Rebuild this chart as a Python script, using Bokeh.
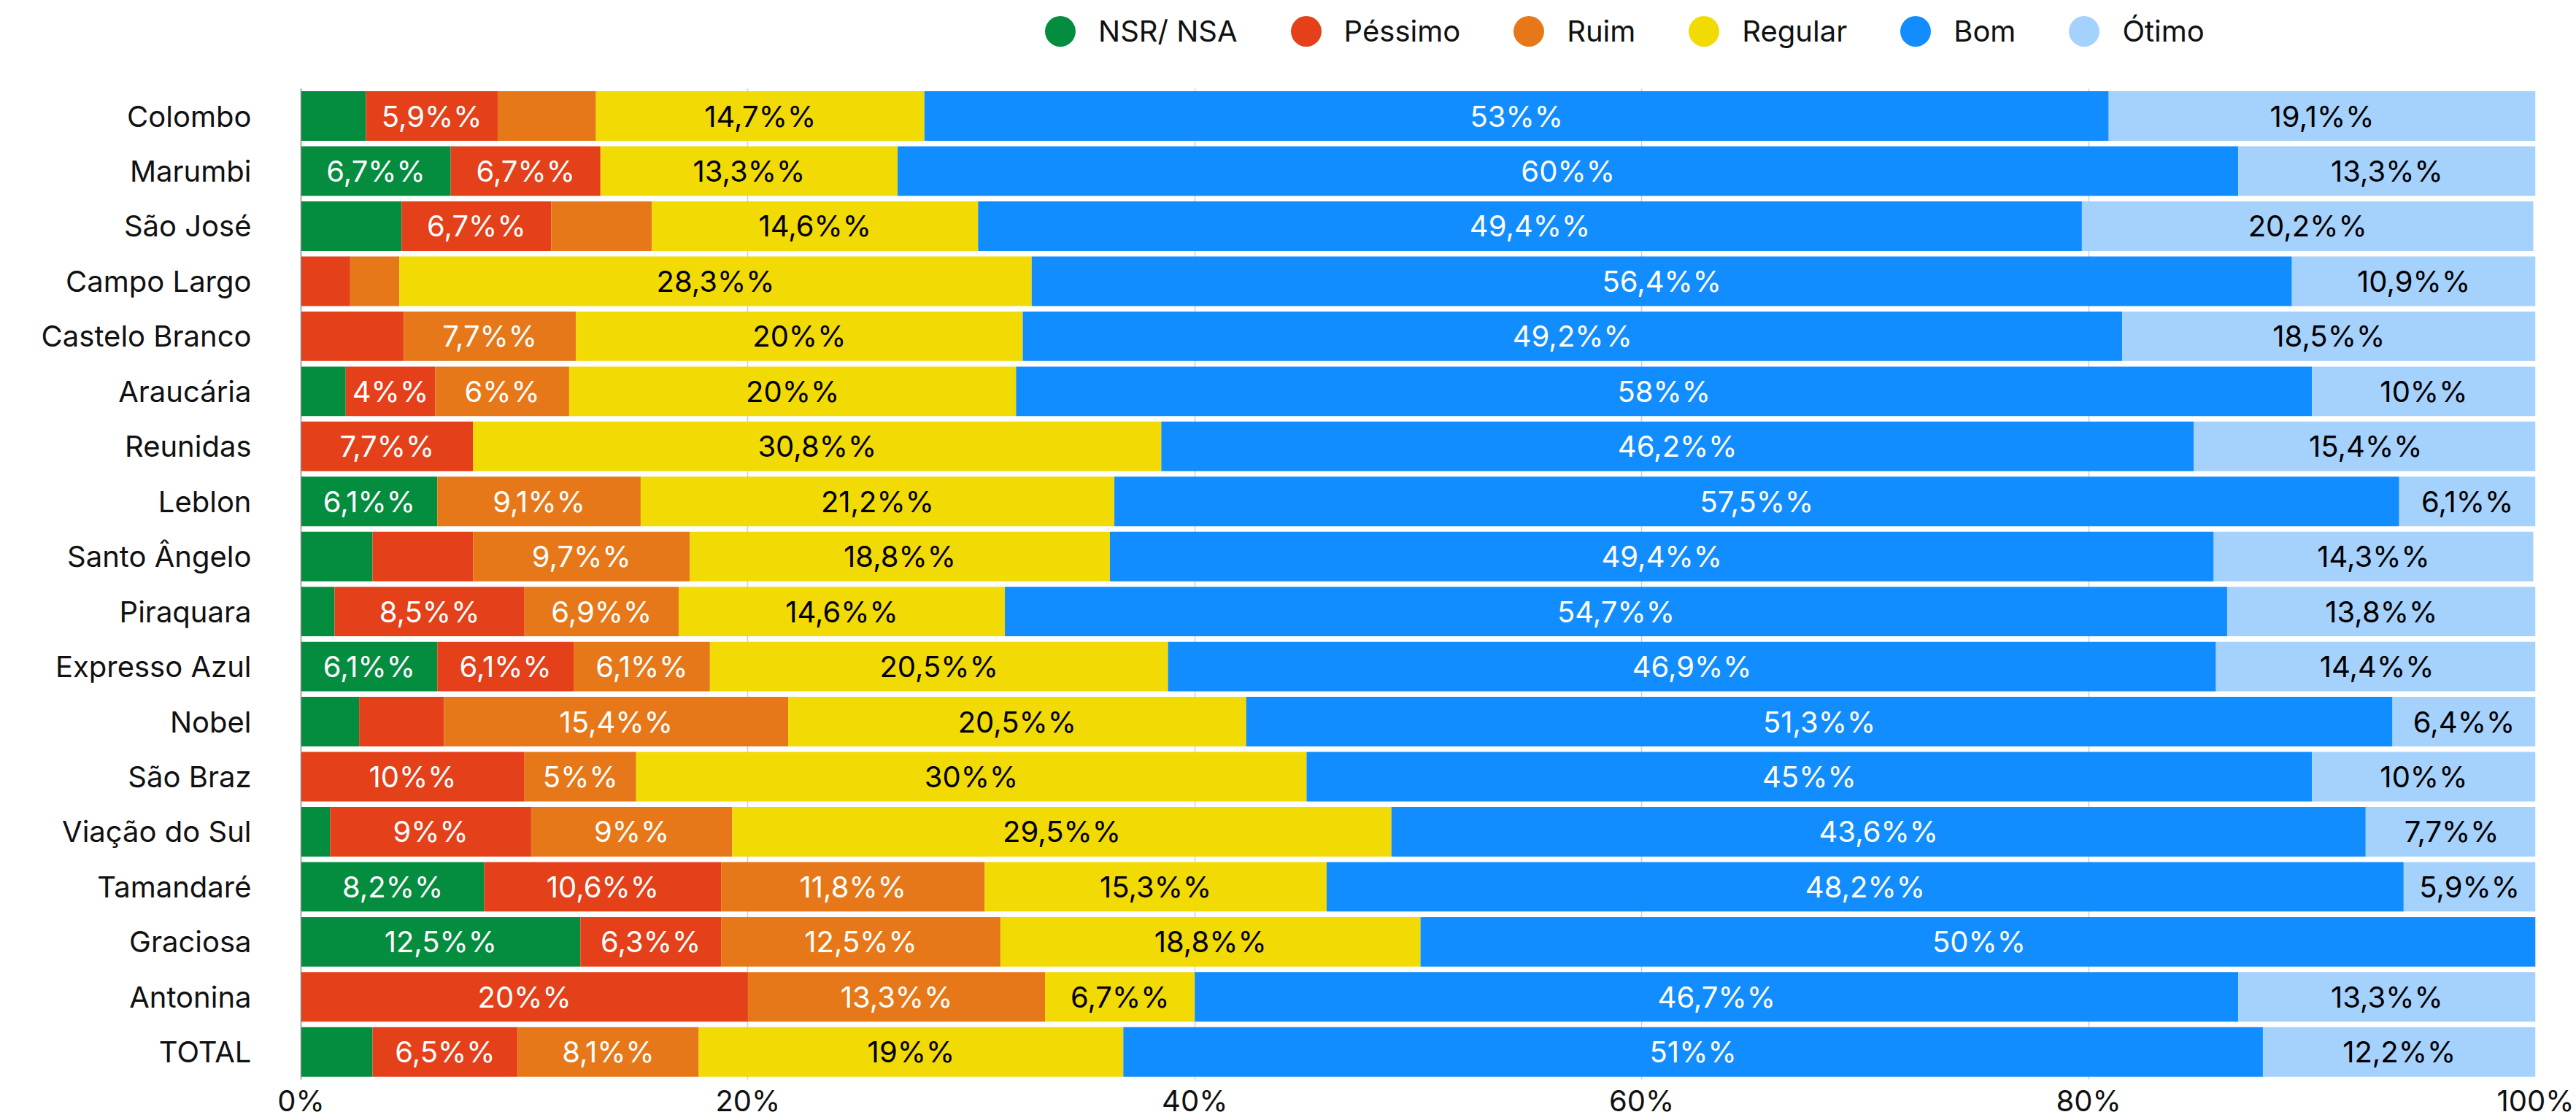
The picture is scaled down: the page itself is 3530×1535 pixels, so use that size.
from bokeh.plotting import figure
from bokeh.models import ColumnDataSource, Range1d, FixedTicker, Legend, LegendItem
from bokeh.core.properties import value
from bokeh.embed import file_html
from bokeh.resources import INLINE

# ---------------- data ----------------
categories = ["Colombo", "Marumbi", "São José", "Campo Largo", "Castelo Branco", "Araucária",
              "Reunidas", "Leblon", "Santo Ângelo", "Piraquara", "Expresso Azul", "Nobel",
              "São Braz", "Viação do Sul", "Tamandaré", "Graciosa", "Antonina", "TOTAL"]

nsr     = [2.9, 6.7, 4.5, 0.0, 0.0, 2.0, 0.0, 6.1, 3.2, 1.5, 6.1, 2.6, 0.0, 1.3, 8.2, 12.5, 0.0, 3.2]
pessimo = [5.9, 6.7, 6.7, 2.2, 4.6, 4.0, 7.7, 0.0, 4.5, 8.5, 6.1, 3.8, 10.0, 9.0, 10.6, 6.3, 20.0, 6.5]
ruim    = [4.4, 0.0, 4.5, 2.2, 7.7, 6.0, 0.0, 9.1, 9.7, 6.9, 6.1, 15.4, 5.0, 9.0, 11.8, 12.5, 13.3, 8.1]
regular = [14.7, 13.3, 14.6, 28.3, 20.0, 20.0, 30.8, 21.2, 18.8, 14.6, 20.5, 20.5, 30.0, 29.5, 15.3, 18.8, 6.7, 19.0]
bom     = [53.0, 60.0, 49.4, 56.4, 49.2, 58.0, 46.2, 57.5, 49.4, 54.7, 46.9, 51.3, 45.0, 43.6, 48.2, 50.0, 46.7, 51.0]
otimo   = [19.1, 13.3, 20.2, 10.9, 18.5, 10.0, 15.4, 6.1, 14.3, 13.8, 14.4, 6.4, 10.0, 7.7, 5.9, 0.0, 13.3, 12.2]

series_names = ["NSR/ NSA", "Péssimo", "Ruim", "Regular", "Bom", "Ótimo"]
series_values = [nsr, pessimo, ruim, regular, bom, otimo]

x_ticks = [0, 20, 40, 60, 80, 100]
x_tick_labels = ["0%", "20%", "40%", "60%", "80%", "100%"]

# ---------------- style / layout ----------------
colors = ["#048c3f", "#e4401a", "#e67819", "#f2da05", "#128dff", "#a5d1fd"]
label_colors = ["white", "white", "white", "black", "white", "black"]
FONT = "Inter"
FS = 40

W, H = 3530, 1535
ML, MR, MB = 412, 56, 50
BARS_TOP, BARS_BOTTOM = 121, 1481   # pixel band occupied by the bar rows
frame_w = W - ML - MR
frame_h = H - MB
n = len(categories)
row_px = (BARS_BOTTOM - BARS_TOP) / n
ypos = list(range(n))               # row index of each category (0 = top)
y_top = -0.5 - BARS_TOP / row_px    # extra room above the bars holds the legend
y_bottom = n - 0.5 + (frame_h - BARS_BOTTOM) / row_px

p = figure(width=W, height=H, x_range=Range1d(0, 100),
           y_range=Range1d(start=y_bottom, end=y_top),
           output_backend="svg", toolbar_location=None,
           min_border_left=ML, min_border_right=MR, min_border_top=0, min_border_bottom=MB)
p.outline_line_color = None
p.background_fill_color = "white"
p.border_fill_color = "white"

# grid (vertical lines only across the bar rows)
p.xgrid.ticker = FixedTicker(ticks=x_ticks)
p.xgrid.grid_line_color = "#cfcfcf"
p.xgrid.grid_line_width = 1.5
p.ygrid.grid_line_color = None
try:
    p.xgrid.cross_bounds = (-0.5, n - 0.5)
except Exception:
    p.xgrid.grid_line_color = None
    p.segment(x0=x_ticks, x1=x_ticks, y0=[-0.5] * len(x_ticks), y1=[n - 0.5] * len(x_ticks),
              line_color="#cfcfcf", line_width=1.5, level="underlay")

# axes
p.xaxis.ticker = FixedTicker(ticks=x_ticks)
p.xaxis.major_label_overrides = {t: l for t, l in zip(x_ticks, x_tick_labels)}
p.xaxis.axis_line_color = None
p.xaxis.major_tick_line_color = None
p.xaxis.minor_tick_line_color = None
p.xaxis.major_tick_out = 0
p.xaxis.major_tick_in = 0
p.xaxis.minor_tick_out = 0
p.xaxis.major_label_text_font = FONT
p.xaxis.major_label_text_font_size = f"{FS}px"
p.xaxis.major_label_text_color = "#111111"
p.xaxis.major_label_standoff = 0

p.yaxis.ticker = FixedTicker(ticks=ypos)
p.yaxis.major_label_overrides = {i: c for i, c in zip(ypos, categories)}
p.yaxis.bounds = (-0.5, n - 0.5)
p.yaxis.axis_line_color = "#8a8a8a"
p.yaxis.axis_line_width = 1.5
p.yaxis.major_tick_line_color = None
p.yaxis.minor_tick_line_color = None
p.yaxis.major_tick_out = 0
p.yaxis.major_tick_in = 0
p.yaxis.minor_tick_out = 0
p.yaxis.major_label_text_font = FONT
p.yaxis.major_label_text_font_size = f"{FS}px"
p.yaxis.major_label_text_color = "#111111"
p.yaxis.major_label_standoff = 68

# stacked bars
lefts = [0.0] * n
lab_x, lab_y, lab_t, lab_c = [], [], [], []
char_w = {",": 0.27, "%": 0.85}


def fmt(v):
    s = f"{v:.1f}"
    if s.endswith(".0"):
        s = s[:-2]
    return s.replace(".", ",") + "%%"


for vals, col, lcol in zip(series_values, colors, label_colors):
    rights = [l + v for l, v in zip(lefts, vals)]
    p.hbar(y=ypos, left=lefts, right=rights, height=0.9,
           fill_color=col, line_color=None)
    for yi, l, v in zip(ypos, lefts, vals):
        if v <= 0:
            continue
        t = fmt(v)
        tw = sum(char_w.get(ch, 0.62) for ch in t) * FS
        seg = v / 100.0 * frame_w
        if seg >= tw + 18:
            lab_x.append(l + v / 2.0)
            lab_y.append(yi)
            lab_t.append(t)
            lab_c.append(lcol)
    lefts = rights

lsrc = ColumnDataSource(dict(x=lab_x, y=lab_y, text=lab_t, color=lab_c))
p.text(x="x", y="y", text="text", source=lsrc, text_color="color",
       text_align="center", text_baseline="middle",
       text_font=value(FONT), text_font_size=f"{FS}px")

# legend keys: circle markers placed outside the visible x range (only their key shows)
items = []
for name, col in zip(series_names, colors):
    r = p.scatter(x=[-50], y=[0], marker="circle", size=42,
                  fill_color=col, line_color=None)
    items.append(LegendItem(label=name, renderers=[r]))

GB = 105
LEG_CY = 44                          # legend row centre, pixels from the top
legend = Legend(items=items, location=(988, frame_h - LEG_CY - GB / 2),
                orientation="horizontal",
                glyph_width=GB, glyph_height=GB, label_height=GB,
                label_standoff=-10, spacing=41, padding=0, margin=0,
                border_line_color=None, background_fill_alpha=0,
                label_text_font=FONT, label_text_font_size=f"{FS}px",
                label_text_color="#111111", label_text_baseline="middle")
p.add_layout(legend)

open("out.html", "w").write(file_html(p, INLINE))
